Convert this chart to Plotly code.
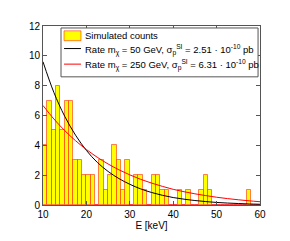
import numpy as np
import plotly.graph_objects as go

# Histogram: 1 keV bins from 10 to 60 keV
bin_edges = list(range(10, 61))
counts = [4, 7, 5, 8, 5, 7, 7, 3, 3, 2,
          2, 2, 0, 3, 1, 2, 4, 3, 1, 3,
          0, 2, 2, 1, 0, 2, 2, 1, 1, 0,
          0, 1, 0, 1, 0, 0, 1, 2, 1, 0,
          0, 0, 0, 0, 0, 0, 0, 1, 0, 0]

# Rate curves
energy = [10, 12.5, 15, 17.5, 20, 22.5, 25, 27.5, 30, 32.5, 35,
          37.5, 40, 42.5, 45, 47.5, 50, 52.5, 55, 57.5, 60]
rate_50 = [9.6, 7.55, 5.95, 4.68, 3.66, 2.86, 2.25, 1.77, 1.39, 1.08, 0.84,
           0.65, 0.50, 0.39, 0.30, 0.23, 0.17, 0.13, 0.10, 0.07, 0.05]
rate_250 = [6.67, 5.77, 4.99, 4.31, 3.72, 3.20, 2.75, 2.36, 2.02, 1.72, 1.47,
            1.25, 1.05, 0.89, 0.75, 0.63, 0.52, 0.43, 0.35, 0.28, 0.22]

x_ticks = [10, 20, 30, 40, 50, 60]
y_ticks = [0, 2, 4, 6, 8, 10, 12]

legend_labels = [
    "Simulated counts",
    "Rate m<sub>χ</sub> = 50 GeV, σ<sub>p</sub><sup>SI</sup> = 2.51 · 10<sup>-10</sup> pb",
    "Rate m<sub>χ</sub> = 250 GeV, σ<sub>p</sub><sup>SI</sup> = 6.31 · 10<sup>-10</sup> pb",
]

centers = (np.array(bin_edges[:-1]) + np.array(bin_edges[1:])) / 2.0

FONT = "Liberation Sans, Arial, Helvetica, sans-serif"
BAR_FILL = "#FFFF00"
BAR_EDGE = "rgba(255,0,0,0.5)"
AX = "#555555"

fig = go.Figure()
fig.add_trace(go.Bar(
    x=centers, y=counts, width=1.0,
    marker=dict(color=BAR_FILL, line=dict(color=BAR_EDGE, width=1)),
    name=legend_labels[0], showlegend=False,
))
fig.add_trace(go.Scatter(
    x=energy, y=rate_50, mode="lines", line=dict(color="black", width=1, shape="spline"),
    name=legend_labels[1], showlegend=False,
))
fig.add_trace(go.Scatter(
    x=energy, y=rate_250, mode="lines", line=dict(color="red", width=1, shape="spline"),
    name=legend_labels[2], showlegend=False,
))

# Legend drawn in the style of the original (box inside the axes)
shapes = [
    dict(type="rect", xref="paper", yref="paper", x0=0.083, x1=0.991, y0=0.716, y1=0.989,
         fillcolor="white", line=dict(color=AX, width=1), layer="above"),
    dict(type="rect", xref="paper", yref="paper", x0=0.097, x1=0.175, y0=0.918, y1=0.973,
         fillcolor=BAR_FILL, line=dict(color=BAR_EDGE, width=1), layer="above"),
    dict(type="line", xref="paper", yref="paper", x0=0.097, x1=0.175, y0=0.874, y1=0.874,
         line=dict(color="black", width=1), layer="above"),
    dict(type="line", xref="paper", yref="paper", x0=0.097, x1=0.175, y0=0.787, y1=0.787,
         line=dict(color="red", width=1), layer="above"),
]
annotations = []
for label, yy in zip(legend_labels, [0.946, 0.868, 0.781]):
    annotations.append(dict(
        text=label, xref="paper", yref="paper", x=0.184, y=yy,
        xanchor="left", yanchor="middle", showarrow=False,
        font=dict(family=FONT, size=9.5, color="black"),
    ))

axis_common = dict(
    showline=True, linecolor=AX, linewidth=1, mirror="ticks",
    ticks="inside", ticklen=4, tickcolor=AX, tickwidth=1,
    showgrid=False, zeroline=False,
    tickfont=dict(family=FONT, size=10, color="black"),
)

# the page adds an 8 px offset; margins compensate so the axes land where the original's do
fig.update_layout(
    width=290, height=241,
    margin=dict(l=35, r=38, t=14, b=44),
    paper_bgcolor="white", plot_bgcolor="white",
    font=dict(family=FONT, size=10, color="black"),
    bargap=0,
    showlegend=False,
    shapes=shapes,
    annotations=annotations,
    xaxis=dict(range=[10, 60], tickvals=x_ticks,
               title=dict(text="E [keV]", font=dict(family=FONT, size=10), standoff=0),
               **axis_common),
    yaxis=dict(range=[0, 12], tickvals=y_ticks, **axis_common),
)

fig.write_html("out.html")
